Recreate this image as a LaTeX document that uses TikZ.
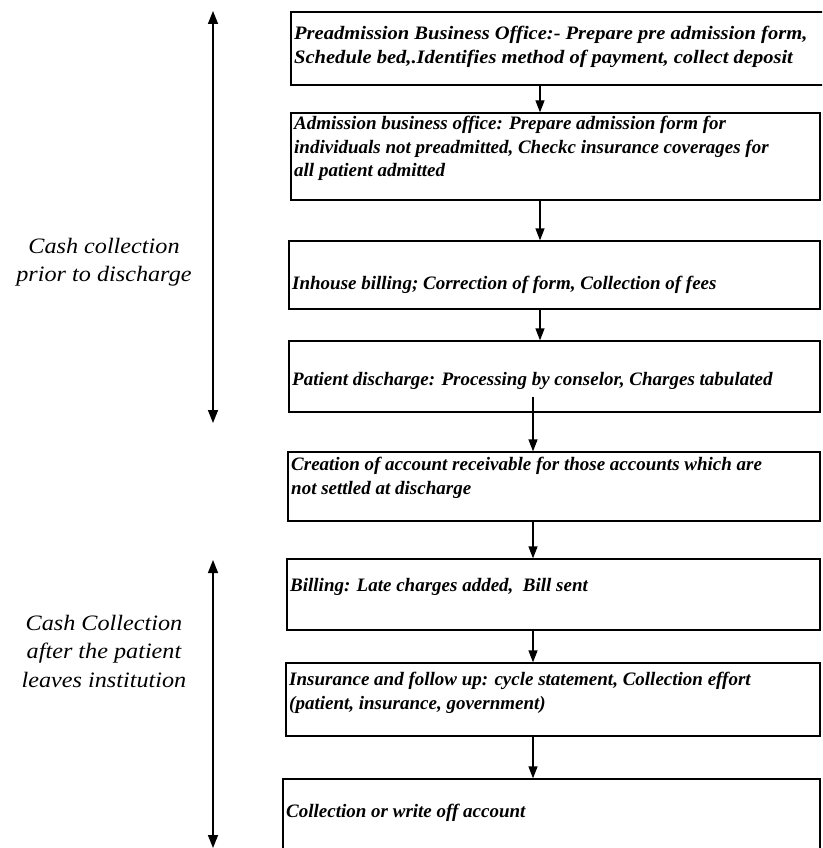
\documentclass[tikz,border=0pt]{standalone}
\usepackage{fontspec}
\setmainfont{Liberation Serif}
\usetikzlibrary{arrows.meta,calc}
\begin{document}
\begin{tikzpicture}[x=1pt,y=-1pt,
  boxstyle/.style={draw, line width=1.3pt, inner sep=0pt, rectangle},
  boxtext/.style={anchor=north west, inner sep=0pt, align=left,
     font=\fontsize{19}{23.5}\selectfont\bfseries\itshape\addfontfeature{FakeStretch=1.0}},
  widetext/.style={boxtext,
     font=\fontsize{19}{23.5}\selectfont\bfseries\itshape\addfontfeature{FakeStretch=1.08}},
  sidetext/.style={anchor=center, inner sep=0pt, align=center,
     font=\fontsize{22}{28.5}\selectfont\itshape\addfontfeature{FakeStretch=1.1}},
  flow/.style={line width=1.3pt, -{Triangle[length=12pt,width=9pt]}},
  span/.style={line width=1.5pt, {Triangle[length=13pt,width=10pt]}-{Triangle[length=13pt,width=10pt]}}]
\clip (0,0) rectangle (822,848);
\fill[white] (0,0) rectangle (822,848);
% boxes
\newcommand\mkbox[5]{\node[boxstyle, minimum width=#4-#2, minimum height=#5-#3] (#1) at ({(#2+#4)/2},{(#3+#5)/2}) {};}
\mkbox{b1}{291}{12}{826}{85}
\mkbox{b2}{291}{113}{820}{200}
\mkbox{b3}{289}{241}{820}{309}
\mkbox{b4}{289}{341}{820}{412}
\mkbox{b5}{288}{452}{820}{521}
\mkbox{b6}{287}{559}{820}{630}
\mkbox{b7}{286}{663}{820}{736}
\mkbox{b8}{283}{779}{820}{870}
% texts
\node[widetext] (t1) at (294,23) {\strut Preadmission Business Office:- Prepare pre admission form,\\\strut Schedule bed,.Identifies method of payment, collect deposit};
\node[boxtext] (t2) at (294,113) {\strut Admission business office: Prepare admission form for\\\strut individuals not preadmitted, Checkc insurance coverages for\\\strut all patient admitted};
\node[boxtext] (t3) at (292,273) {\strut Inhouse billing; Correction of form, Collection of fees};
\node[boxtext] (t4) at (292,369) {\strut Patient discharge: Processing by conselor, Charges tabulated};
\node[boxtext] (t5) at (291,454) {\strut Creation of account receivable for those accounts which are\\\strut not settled at discharge};
\node[boxtext] (t6) at (290,575) {\strut Billing: Late charges added,\ \ Bill sent};
\node[boxtext] (t7) at (289,669) {\strut Insurance and follow up: cycle statement, Collection effort\\\strut (patient, insurance, government)};
\node[boxtext] (t8) at (286,801) {\strut Collection or write off account};
% flow arrows
\coordinate (ca) at (540,0);
\coordinate (cb) at (533,0);
\coordinate (a4s) at (533,397);
\draw[flow] (b1.south -| ca) -- (b2.north -| ca);
\draw[flow] (b2.south -| ca) -- (b3.north -| ca);
\draw[flow] (b3.south -| ca) -- (b4.north -| ca);
\draw[flow] (a4s) -- (b5.north -| a4s);
\draw[flow] (b5.south -| cb) -- (b6.north -| cb);
\draw[flow] (b6.south -| cb) -- (b7.north -| cb);
\draw[flow] (b7.south -| cb) -- (b8.north -| cb);
% side spans
\coordinate (s1t) at (213,11);
\coordinate (s1b) at (213,423);
\coordinate (s2t) at (213,560);
\coordinate (s2b) at (213,848);
\draw[span] (s1t) -- (s1b);
\draw[span] (s2t) -- (s2b);
\node[sidetext] (l1) at (104,262) {Cash collection\\prior to discharge};
\node[sidetext] (l2) at (104,651) {Cash Collection\\after the patient\\leaves institution};
\end{tikzpicture}
\end{document}
